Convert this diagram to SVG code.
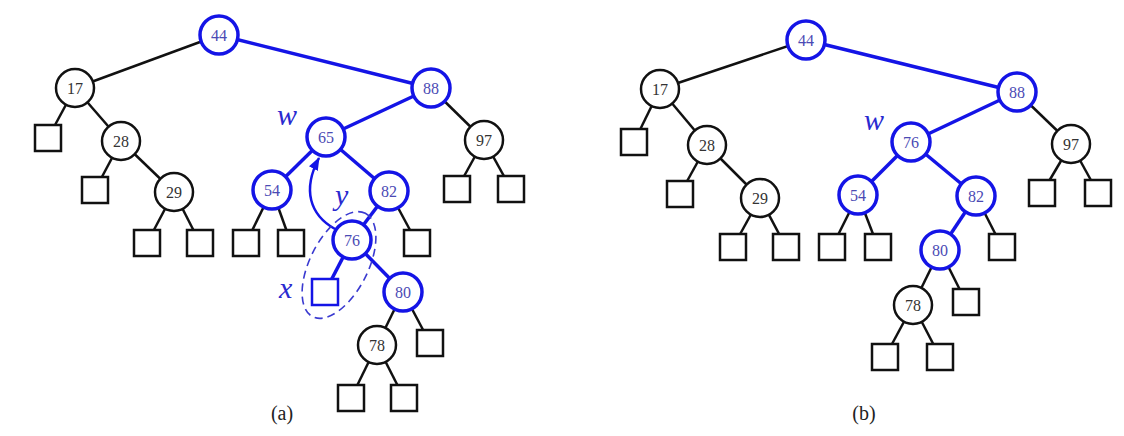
<svg xmlns="http://www.w3.org/2000/svg" width="1124" height="436" viewBox="0 0 1124 436">
<style>
.e{stroke:#111;stroke-width:2.5;fill:none}
.eb{stroke:#1414e6;stroke-width:3.5;fill:none}
.c{fill:#fff;stroke:#111;stroke-width:2.5}
.cb{fill:#fff;stroke:#1414e6;stroke-width:3.5}
.s{fill:#fff;stroke:#111;stroke-width:2.5}
.sb{fill:#fff;stroke:#1414e6;stroke-width:2.5}
.t{font-family:"Liberation Serif","DejaVu Serif",serif;font-size:16px;fill:#333;text-anchor:middle;dominant-baseline:central}
.tb{font-family:"Liberation Serif","DejaVu Serif",serif;font-size:16px;fill:#4a4ab4;text-anchor:middle;dominant-baseline:central}
.lab{font-family:"Liberation Serif","DejaVu Serif",serif;font-style:italic;font-size:30px;fill:#2a2ad0}
.cap{font-family:"Liberation Serif","DejaVu Serif",serif;font-size:20px;fill:#222;text-anchor:middle}
</style>
<defs>
<marker id="ah" markerUnits="userSpaceOnUse" markerWidth="14" markerHeight="12" refX="12" refY="5" orient="auto">
<path d="M0,0 L13,5 L0,10 Z" fill="#1414e6"/>
</marker>
</defs>
<rect width="1124" height="436" fill="#fff"/>
<g id="connectors">
<line class="e" x1="219" y1="35" x2="75" y2="88"/>
<line class="e" x1="75" y1="88" x2="48" y2="138"/>
<line class="e" x1="75" y1="88" x2="121" y2="141"/>
<line class="e" x1="121" y1="141" x2="95" y2="190"/>
<line class="e" x1="121" y1="141" x2="174" y2="192"/>
<line class="e" x1="174" y1="192" x2="147" y2="243"/>
<line class="e" x1="174" y1="192" x2="200" y2="243"/>
<line class="eb" x1="219" y1="35" x2="431" y2="88"/>
<line class="eb" x1="431" y1="88" x2="326" y2="137"/>
<line class="e" x1="431" y1="88" x2="484" y2="140"/>
<line class="e" x1="484" y1="140" x2="457" y2="189"/>
<line class="e" x1="484" y1="140" x2="511" y2="189"/>
<line class="eb" x1="326" y1="137" x2="272" y2="190"/>
<line class="eb" x1="326" y1="137" x2="389" y2="191"/>
<line class="e" x1="272" y1="190" x2="246" y2="243"/>
<line class="e" x1="272" y1="190" x2="291" y2="243"/>
<line class="e" x1="389" y1="191" x2="417" y2="243"/>
<line class="eb" x1="389" y1="191" x2="352" y2="240"/>
<line class="eb" x1="352" y1="240" x2="325" y2="292"/>
<line class="eb" x1="352" y1="240" x2="403" y2="292"/>
<line class="e" x1="403" y1="292" x2="430" y2="343"/>
<line class="e" x1="403" y1="292" x2="377" y2="345"/>
<line class="e" x1="377" y1="345" x2="351" y2="398"/>
<line class="e" x1="377" y1="345" x2="404" y2="398"/>
<path d="M335,229 C310,215 302,190 319,158" stroke="#1414e6" stroke-width="2.5" fill="none" marker-end="url(#ah)"/>
<ellipse cx="339" cy="265" rx="58" ry="29" transform="rotate(-63 339 265)" fill="none" stroke="#3a3ad0" stroke-width="1.6" stroke-dasharray="8 5"/>
<line class="e" x1="806" y1="40" x2="660" y2="89"/>
<line class="e" x1="660" y1="89" x2="634" y2="142"/>
<line class="e" x1="660" y1="89" x2="707" y2="145"/>
<line class="e" x1="707" y1="145" x2="680" y2="194"/>
<line class="e" x1="707" y1="145" x2="760" y2="198"/>
<line class="e" x1="760" y1="198" x2="733" y2="247"/>
<line class="e" x1="760" y1="198" x2="786" y2="247"/>
<line class="eb" x1="806" y1="40" x2="1017" y2="92"/>
<line class="eb" x1="1017" y1="92" x2="911" y2="142"/>
<line class="e" x1="1017" y1="92" x2="1071" y2="144"/>
<line class="e" x1="1071" y1="144" x2="1042" y2="193"/>
<line class="e" x1="1071" y1="144" x2="1098" y2="193"/>
<line class="eb" x1="911" y1="142" x2="858" y2="195"/>
<line class="eb" x1="911" y1="142" x2="976" y2="196"/>
<line class="e" x1="858" y1="195" x2="832" y2="247"/>
<line class="e" x1="858" y1="195" x2="878" y2="247"/>
<line class="e" x1="976" y1="196" x2="1002" y2="247"/>
<line class="eb" x1="976" y1="196" x2="940" y2="250"/>
<line class="e" x1="940" y1="250" x2="966" y2="302"/>
<line class="e" x1="940" y1="250" x2="913" y2="305"/>
<line class="e" x1="913" y1="305" x2="885" y2="357"/>
<line class="e" x1="913" y1="305" x2="940" y2="357"/>
</g>
<g id="a44"><circle class="cb" cx="219" cy="35" r="19"/><text class="tb" x="219" y="35">44</text></g>
<g id="a17"><circle class="c" cx="75" cy="88" r="19"/><text class="t" x="75" y="88">17</text></g>
<g id="a88"><circle class="cb" cx="431" cy="88" r="19"/><text class="tb" x="431" y="88">88</text></g>
<g id="a28"><circle class="c" cx="121" cy="141" r="19"/><text class="t" x="121" y="141">28</text></g>
<g id="a29"><circle class="c" cx="174" cy="192" r="19"/><text class="t" x="174" y="192">29</text></g>
<g id="a65"><circle class="cb" cx="326" cy="137" r="19"/><text class="tb" x="326" y="137">65</text></g>
<g id="a97"><circle class="c" cx="484" cy="140" r="19"/><text class="t" x="484" y="140">97</text></g>
<g id="a54"><circle class="cb" cx="272" cy="190" r="19"/><text class="tb" x="272" y="190">54</text></g>
<g id="a82"><circle class="cb" cx="389" cy="191" r="19"/><text class="tb" x="389" y="191">82</text></g>
<g id="a76"><circle class="cb" cx="352" cy="240" r="19"/><text class="tb" x="352" y="240">76</text></g>
<g id="a80"><circle class="cb" cx="403" cy="292" r="19"/><text class="tb" x="403" y="292">80</text></g>
<g id="a78"><circle class="c" cx="377" cy="345" r="19"/><text class="t" x="377" y="345">78</text></g>
<g id="a-ext">
<rect class="s" x="35" y="125" width="26" height="26"/>
<rect class="s" x="82" y="177" width="26" height="26"/>
<rect class="s" x="134" y="230" width="26" height="26"/>
<rect class="s" x="187" y="230" width="26" height="26"/>
<rect class="s" x="233" y="230" width="26" height="26"/>
<rect class="s" x="278" y="230" width="26" height="26"/>
<rect class="s" x="404" y="230" width="26" height="26"/>
<rect class="s" x="444" y="176" width="26" height="26"/>
<rect class="s" x="498" y="176" width="26" height="26"/>
<rect class="s" x="417" y="330" width="26" height="26"/>
<rect class="s" x="338" y="385" width="26" height="26"/>
<rect class="s" x="391" y="385" width="26" height="26"/>
</g>
<g id="a-x"><rect class="sb" x="312" y="279" width="26" height="26"/></g>
<g id="a-labels">
<text class="lab" x="277" y="125">w</text>
<text class="lab" x="335" y="205">y</text>
<text class="lab" x="279" y="298">x</text>
<text class="cap" x="282" y="420">(a)</text>
</g>
<g id="b44"><circle class="cb" cx="806" cy="40" r="19"/><text class="tb" x="806" y="40">44</text></g>
<g id="b17"><circle class="c" cx="660" cy="89" r="19"/><text class="t" x="660" y="89">17</text></g>
<g id="b88"><circle class="cb" cx="1017" cy="92" r="19"/><text class="tb" x="1017" y="92">88</text></g>
<g id="b28"><circle class="c" cx="707" cy="145" r="19"/><text class="t" x="707" y="145">28</text></g>
<g id="b29"><circle class="c" cx="760" cy="198" r="19"/><text class="t" x="760" y="198">29</text></g>
<g id="b76"><circle class="cb" cx="911" cy="142" r="19"/><text class="tb" x="911" y="142">76</text></g>
<g id="b97"><circle class="c" cx="1071" cy="144" r="19"/><text class="t" x="1071" y="144">97</text></g>
<g id="b54"><circle class="cb" cx="858" cy="195" r="19"/><text class="tb" x="858" y="195">54</text></g>
<g id="b82"><circle class="cb" cx="976" cy="196" r="19"/><text class="tb" x="976" y="196">82</text></g>
<g id="b80"><circle class="cb" cx="940" cy="250" r="19"/><text class="tb" x="940" y="250">80</text></g>
<g id="b78"><circle class="c" cx="913" cy="305" r="19"/><text class="t" x="913" y="305">78</text></g>
<g id="b-ext">
<rect class="s" x="621" y="129" width="26" height="26"/>
<rect class="s" x="667" y="181" width="26" height="26"/>
<rect class="s" x="720" y="234" width="26" height="26"/>
<rect class="s" x="773" y="234" width="26" height="26"/>
<rect class="s" x="819" y="234" width="26" height="26"/>
<rect class="s" x="865" y="234" width="26" height="26"/>
<rect class="s" x="989" y="234" width="26" height="26"/>
<rect class="s" x="1029" y="180" width="26" height="26"/>
<rect class="s" x="1085" y="180" width="26" height="26"/>
<rect class="s" x="953" y="289" width="26" height="26"/>
<rect class="s" x="872" y="344" width="26" height="26"/>
<rect class="s" x="927" y="344" width="26" height="26"/>
</g>
<g id="b-labels">
<text class="lab" x="864" y="130">w</text>
<text class="cap" x="864" y="420">(b)</text>
</g>
</svg>
